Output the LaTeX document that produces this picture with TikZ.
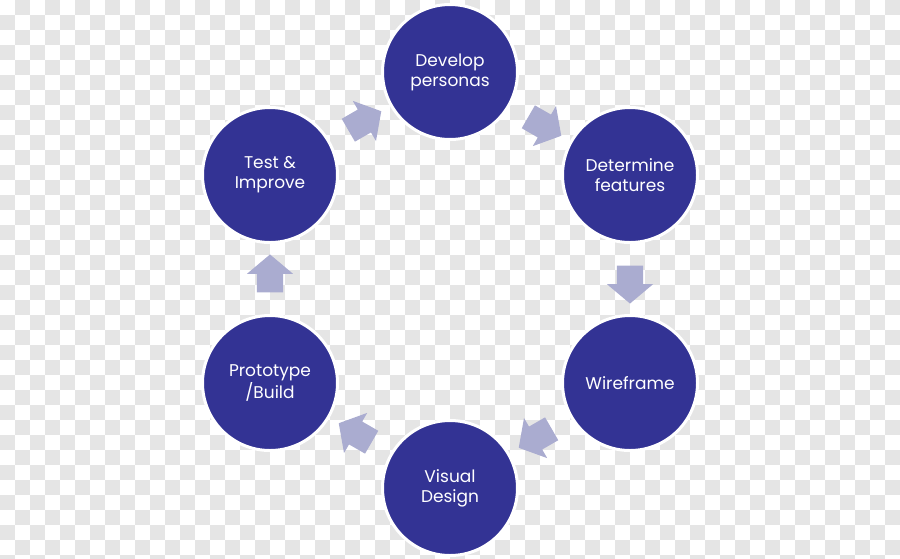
\documentclass[tikz,border=0pt]{standalone}
\usepackage{fontspec}
\setmainfont{Poppins}
\usetikzlibrary{shapes.arrows,calc}
\definecolor{stepblue}{RGB}{51,51,148}
\definecolor{arrowlav}{RGB}{170,172,208}
\definecolor{checkgray}{RGB}{229,229,229}

\begin{document}
\begin{tikzpicture}[x=1pt,y=-1pt,font=\fontsize{17}{20}\selectfont]
\tikzstyle{c}=[circle,draw=white,line width=3pt,fill=stepblue,minimum size=135,inner sep=0,text=white,align=center]
\tikzstyle{a}=[single arrow,fill=arrowlav,inner sep=0,text height=26,text depth=0,single arrow head extend=10,single arrow tip angle=100,minimum height=38]

    \useasboundingbox (0,0) rectangle (900,558);
    % checker background
    \foreach \i in {1,3,...,59}
      \foreach \j in {0,2,...,36}
        \fill[checkgray] (15*\i,15*\j) rectangle ++(15,15);
    \foreach \i in {0,2,...,58}
      \foreach \j in {1,3,...,37}
        \fill[checkgray] (15*\i,15*\j) rectangle ++(15,15);

    \node[c] (dev) at (450,72) {Develop\\personas};
    \node[c] (det) at (630,175) {Determine\\features};
    \node[c] (wire) at (630,383) {Wireframe};
    \node[c] (vis) at (450,488) {Visual\\Design};
    \node[c] (proto) at (270,383) {Prototype\\/Build};
    \node[c] (test) at (270,175) {Test \&\\Improve};

    \node[a, rotate=-30] (a1) at ($(dev)!0.5!(det)$) {};
    \node[a, rotate=-90] (a2) at ($(det)!0.5!(wire)$) {};
    \node[a, rotate=210] (a3) at ($(wire)!0.5!(vis)$) {};
    \node[a, rotate=150] (a4) at ($(vis)!0.5!(proto)$) {};
    \node[a, rotate=90] (a5) at ($(proto)!0.5!(test)$) {};
    \node[a, rotate=30] (a6) at ($(test)!0.5!(dev)$) {};

\end{tikzpicture}
\end{document}
